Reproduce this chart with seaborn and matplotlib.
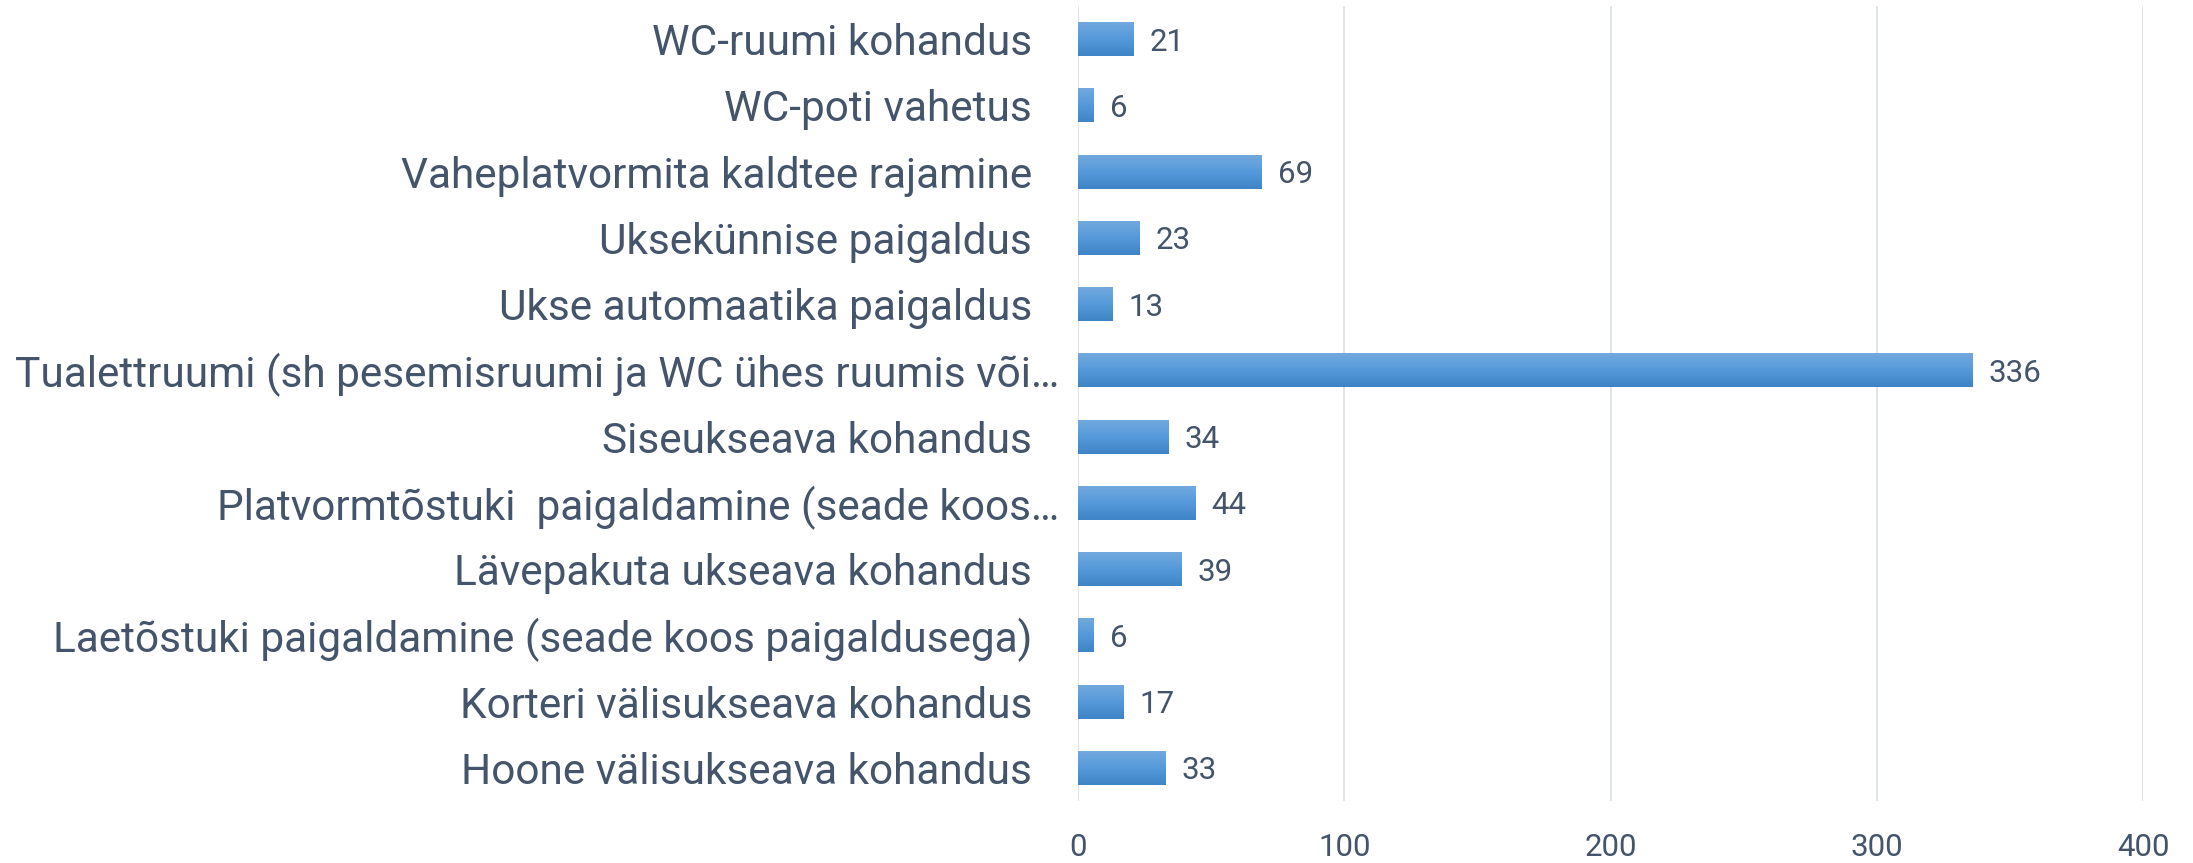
import numpy as np
import pandas as pd
import matplotlib
matplotlib.use("Agg")
import matplotlib.pyplot as plt
import matplotlib.transforms as mtransforms
import seaborn as sns
from matplotlib.colors import LinearSegmentedColormap

categories = [
    "WC-ruumi kohandus",
    "WC-poti vahetus",
    "Vaheplatvormita kaldtee rajamine",
    "Uksekünnise paigaldus",
    "Ukse automaatika paigaldus",
    "Tualettruumi (sh pesemisruumi ja WC ühes ruumis või…",
    "Siseukseava kohandus",
    "Platvormtõstuki  paigaldamine (seade koos…",
    "Lävepakuta ukseava kohandus",
    "Laetõstuki paigaldamine (seade koos paigaldusega)",
    "Korteri välisukseava kohandus",
    "Hoone välisukseava kohandus",
]
values = [21, 6, 69, 23, 13, 336, 34, 44, 39, 6, 17, 33]
x_ticks = [0, 100, 200, 300, 400]

TEXT = "#44546A"
GRID = "#DCE1E8"

sns.set_theme(style="white")
plt.rcParams["font.family"] = ["Roboto", "DejaVu Sans"]

df = pd.DataFrame({"cat": categories, "val": values})

fig = plt.figure(figsize=(21.93, 8.63), dpi=100)
ax = fig.add_axes([1078 / 2193, 1 - 801 / 863, (2143 - 1078) / 2193, (801 - 6) / 863])

sns.barplot(data=df, y="cat", x="val", orient="h", order=categories,
            width=0.51, color="#5B9BD5", ax=ax, zorder=2)

cmap = LinearSegmentedColormap.from_list("g", ["#72A9DE", "#5599DA", "#3F84C6"])
grad = np.linspace(0, 1, 64).reshape(-1, 1)
for p in list(ax.patches):
    x0, y0 = p.get_x(), p.get_y()
    w, h = p.get_width(), p.get_height()
    ax.imshow(grad, cmap=cmap, aspect="auto", origin="upper",
              extent=(x0, x0 + w, y0 + h, y0), zorder=3, interpolation="bilinear")
    p.set_visible(False)

for i, v in enumerate(values):
    ax.annotate(str(v), xy=(v, i), xytext=(11.5, 0), textcoords="offset points",
                ha="left", va="center_baseline", fontsize=22.5, color=TEXT)

ax.set_xlim(0, 400)
ax.set_ylim(len(categories) - 0.5, -0.5)
ax.set_xticks(x_ticks)
ax.set_xticklabels([str(t) for t in x_ticks])
ax.xaxis.grid(True, color=GRID, linewidth=1.3, zorder=0)
ax.yaxis.grid(False)
ax.set_axisbelow(True)
for s in ax.spines.values():
    s.set_visible(False)
ax.set_xlabel("")
ax.set_ylabel("")
ax.tick_params(axis="x", length=0, pad=23, labelsize=22.5, labelcolor=TEXT)
ax.tick_params(axis="y", length=0, pad=33, labelsize=30.5, labelcolor=TEXT)

# truncated labels sit closer to the axis
shift = mtransforms.ScaledTranslation(19.4 / 72, 0, fig.dpi_scale_trans)
for lab in ax.get_yticklabels():
    if lab.get_text().endswith("…"):
        lab.set_transform(lab.get_transform() + shift)

fig.savefig("out.png", dpi=100, facecolor="white")
